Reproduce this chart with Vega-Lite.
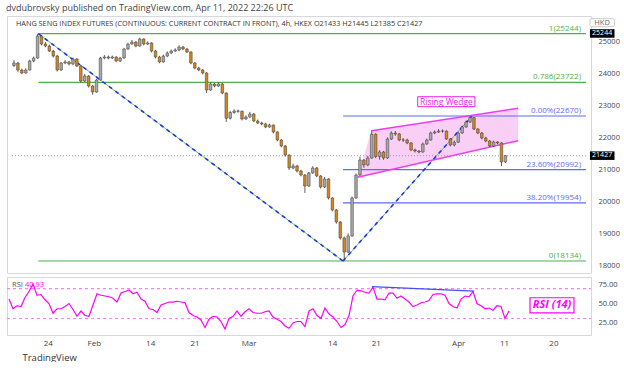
{
"$schema": "https://vega.github.io/schema/vega-lite/v6.json",
"background": "white",
"padding": {"left": 5, "top": 3, "right": 0, "bottom": 0},
"title": {"text": "dvdubrovsky published on TradingView.com, Apr 11, 2022 22:26 UTC", "anchor": "start", "fontSize": 9, "fontWeight": "normal", "color": "#444", "font": "Open Sans", "offset": 3},
"spacing": 2,
"datasets": {
"bars": [
{"i":0,"o":24250,"h":24420,"l":24200,"c":24328,"r":56},
{"i":1,"o":24328,"h":24360,"l":24050,"c":24108,"r":43},
{"i":2,"o":24108,"h":24150,"l":23980,"c":24015,"r":47},
{"i":3,"o":24015,"h":24160,"l":23990,"c":24108,"r":46},
{"i":4,"o":24108,"h":24430,"l":24090,"c":24390,"r":58},
{"i":5,"o":24390,"h":24530,"l":24350,"c":24484,"r":66},
{"i":6,"o":24484,"h":25244,"l":24460,"c":25172,"r":76},
{"i":7,"o":25172,"h":25200,"l":24880,"c":24922,"r":61},
{"i":8,"o":24922,"h":24990,"l":24820,"c":24860,"r":62},
{"i":9,"o":24860,"h":24900,"l":24670,"c":24703,"r":55},
{"i":10,"o":24703,"h":24740,"l":24500,"c":24546,"r":50},
{"i":11,"o":24546,"h":24580,"l":24060,"c":24108,"r":37},
{"i":12,"o":24108,"h":24360,"l":24080,"c":24327,"r":43},
{"i":13,"o":24327,"h":24420,"l":24290,"c":24360,"r":43},
{"i":14,"o":24360,"h":24400,"l":24250,"c":24296,"r":46},
{"i":15,"o":24296,"h":24500,"l":24270,"c":24453,"r":50},
{"i":16,"o":24453,"h":24480,"l":24200,"c":24234,"r":42},
{"i":17,"o":24234,"h":24260,"l":23720,"c":23764,"r":33},
{"i":18,"o":23764,"h":23990,"l":23740,"c":23921,"r":40},
{"i":19,"o":23921,"h":23950,"l":23560,"c":23608,"r":34},
{"i":20,"o":23608,"h":23640,"l":23336,"c":23420,"r":33},
{"i":21,"o":23420,"h":23830,"l":23400,"c":23796,"r":48},
{"i":22,"o":23796,"h":24520,"l":23780,"c":24484,"r":63},
{"i":23,"o":24484,"h":24580,"l":24440,"c":24515,"r":61},
{"i":24,"o":24515,"h":24560,"l":24440,"c":24484,"r":60},
{"i":25,"o":24484,"h":24560,"l":24450,"c":24515,"r":59},
{"i":26,"o":24515,"h":24540,"l":24350,"c":24390,"r":57},
{"i":27,"o":24390,"h":24520,"l":24360,"c":24484,"r":52},
{"i":28,"o":24484,"h":24800,"l":24460,"c":24765,"r":64},
{"i":29,"o":24765,"h":24960,"l":24740,"c":24922,"r":66},
{"i":30,"o":24922,"h":25050,"l":24900,"c":24984,"r":68},
{"i":31,"o":24984,"h":25010,"l":24820,"c":24859,"r":63},
{"i":32,"o":24859,"h":25120,"l":24840,"c":25078,"r":65},
{"i":33,"o":25078,"h":25100,"l":24880,"c":24922,"r":56},
{"i":34,"o":24922,"h":25000,"l":24890,"c":24953,"r":53},
{"i":35,"o":24953,"h":24980,"l":24660,"c":24703,"r":43},
{"i":36,"o":24703,"h":24740,"l":24470,"c":24515,"r":42},
{"i":37,"o":24515,"h":24550,"l":24320,"c":24359,"r":38},
{"i":38,"o":24359,"h":24590,"l":24340,"c":24546,"r":48},
{"i":39,"o":24546,"h":24690,"l":24510,"c":24640,"r":50},
{"i":40,"o":24640,"h":24750,"l":24610,"c":24703,"r":52},
{"i":41,"o":24703,"h":24790,"l":24680,"c":24734,"r":52},
{"i":42,"o":24734,"h":24880,"l":24700,"c":24828,"r":53},
{"i":43,"o":24828,"h":24860,"l":24730,"c":24765,"r":52},
{"i":44,"o":24765,"h":24800,"l":24640,"c":24671,"r":51},
{"i":45,"o":24671,"h":24700,"l":24290,"c":24327,"r":38},
{"i":46,"o":24327,"h":24360,"l":24130,"c":24171,"r":34},
{"i":47,"o":24171,"h":24210,"l":24070,"c":24108,"r":32},
{"i":48,"o":24108,"h":24140,"l":23970,"c":24015,"r":28},
{"i":49,"o":24015,"h":24040,"l":23389,"c":23483,"r":18},
{"i":50,"o":23483,"h":23720,"l":23460,"c":23671,"r":29},
{"i":51,"o":23671,"h":23700,"l":23570,"c":23608,"r":33},
{"i":52,"o":23608,"h":23720,"l":23580,"c":23671,"r":32},
{"i":53,"o":23671,"h":23700,"l":23350,"c":23389,"r":26},
{"i":54,"o":23389,"h":23410,"l":22483,"c":22600,"r":16},
{"i":55,"o":22600,"h":22830,"l":22560,"c":22780,"r":30},
{"i":56,"o":22780,"h":22880,"l":22740,"c":22826,"r":33},
{"i":57,"o":22826,"h":22870,"l":22770,"c":22820,"r":40},
{"i":58,"o":22820,"h":22840,"l":22530,"c":22576,"r":33},
{"i":59,"o":22576,"h":22690,"l":22550,"c":22639,"r":39},
{"i":60,"o":22639,"h":22800,"l":22610,"c":22733,"r":43},
{"i":61,"o":22733,"h":22760,"l":22480,"c":22514,"r":38},
{"i":62,"o":22514,"h":22560,"l":22420,"c":22451,"r":37},
{"i":63,"o":22451,"h":22490,"l":22380,"c":22420,"r":37},
{"i":64,"o":22420,"h":22460,"l":22290,"c":22326,"r":39},
{"i":65,"o":22326,"h":22430,"l":22300,"c":22389,"r":40},
{"i":66,"o":22389,"h":22400,"l":22130,"c":22170,"r":32},
{"i":67,"o":22170,"h":22190,"l":21880,"c":21920,"r":29},
{"i":68,"o":21920,"h":21950,"l":21690,"c":21732,"r":26},
{"i":69,"o":21732,"h":21760,"l":21400,"c":21450,"r":20},
{"i":70,"o":21450,"h":21470,"l":20980,"c":21044,"r":17},
{"i":71,"o":21044,"h":21180,"l":21000,"c":21107,"r":24},
{"i":72,"o":21107,"h":21140,"l":20900,"c":20950,"r":26},
{"i":73,"o":20950,"h":20990,"l":20780,"c":20825,"r":26},
{"i":74,"o":20825,"h":20850,"l":20262,"c":20481,"r":19},
{"i":75,"o":20481,"h":20920,"l":20450,"c":20888,"r":40},
{"i":76,"o":20888,"h":21100,"l":20860,"c":21044,"r":43},
{"i":77,"o":21044,"h":21070,"l":20760,"c":20794,"r":34},
{"i":78,"o":20794,"h":20820,"l":20400,"c":20450,"r":30},
{"i":79,"o":20450,"h":20760,"l":20420,"c":20700,"r":44},
{"i":80,"o":20700,"h":20720,"l":20060,"c":20106,"r":36},
{"i":81,"o":20106,"h":20130,"l":19690,"c":19731,"r":32},
{"i":82,"o":19731,"h":19760,"l":19300,"c":19355,"r":26},
{"i":83,"o":19355,"h":19380,"l":18800,"c":18855,"r":18},
{"i":84,"o":18855,"h":18900,"l":18134,"c":18416,"r":22},
{"i":85,"o":18416,"h":19000,"l":18380,"c":18917,"r":34},
{"i":86,"o":18917,"h":20150,"l":18890,"c":20106,"r":60},
{"i":87,"o":20106,"h":20870,"l":20080,"c":20825,"r":68},
{"i":88,"o":20825,"h":21400,"l":20800,"c":21294,"r":67},
{"i":89,"o":21294,"h":21320,"l":21050,"c":21138,"r":65},
{"i":90,"o":21138,"h":21420,"l":21100,"c":21356,"r":64},
{"i":91,"o":21356,"h":22210,"l":21330,"c":22100,"r":72},
{"i":92,"o":22100,"h":22130,"l":21350,"c":21400,"r":56},
{"i":93,"o":21400,"h":21600,"l":21300,"c":21544,"r":56},
{"i":94,"o":21544,"h":21580,"l":21300,"c":21356,"r":55},
{"i":95,"o":21356,"h":22000,"l":21330,"c":21950,"r":64},
{"i":96,"o":21950,"h":22190,"l":21920,"c":22138,"r":64},
{"i":97,"o":22138,"h":22200,"l":22050,"c":22107,"r":57},
{"i":98,"o":22107,"h":22140,"l":21880,"c":21919,"r":60},
{"i":99,"o":21919,"h":21980,"l":21860,"c":21919,"r":56},
{"i":100,"o":21919,"h":21960,"l":21790,"c":21826,"r":52},
{"i":101,"o":21826,"h":21850,"l":21570,"c":21607,"r":46},
{"i":102,"o":21607,"h":21650,"l":21530,"c":21575,"r":48},
{"i":103,"o":21575,"h":21600,"l":21500,"c":21544,"r":51},
{"i":104,"o":21544,"h":21840,"l":21520,"c":21794,"r":52},
{"i":105,"o":21794,"h":21960,"l":21770,"c":21919,"r":54},
{"i":106,"o":21919,"h":22180,"l":21900,"c":22138,"r":62},
{"i":107,"o":22138,"h":22220,"l":22100,"c":22169,"r":63},
{"i":108,"o":22169,"h":22260,"l":22140,"c":22200,"r":63},
{"i":109,"o":22200,"h":22250,"l":22150,"c":22200,"r":61},
{"i":110,"o":22200,"h":22220,"l":21920,"c":21950,"r":50},
{"i":111,"o":21950,"h":21980,"l":21720,"c":21763,"r":46},
{"i":112,"o":21763,"h":21900,"l":21720,"c":21850,"r":44},
{"i":113,"o":21850,"h":22180,"l":21830,"c":22138,"r":56},
{"i":114,"o":22138,"h":22370,"l":22110,"c":22326,"r":60},
{"i":115,"o":22326,"h":22530,"l":22300,"c":22482,"r":59},
{"i":116,"o":22482,"h":22660,"l":22450,"c":22620,"r":66},
{"i":117,"o":22620,"h":22640,"l":22230,"c":22263,"r":50},
{"i":118,"o":22263,"h":22290,"l":22100,"c":22138,"r":47},
{"i":119,"o":22138,"h":22170,"l":21940,"c":21982,"r":43},
{"i":120,"o":21982,"h":22020,"l":21850,"c":21888,"r":44},
{"i":121,"o":21888,"h":21920,"l":21700,"c":21732,"r":41},
{"i":122,"o":21732,"h":21900,"l":21710,"c":21857,"r":47},
{"i":123,"o":21857,"h":21880,"l":21780,"c":21826,"r":46},
{"i":124,"o":21826,"h":21850,"l":21100,"c":21232,"r":30},
{"i":125,"o":21232,"h":21445,"l":21200,"c":21427,"r":40}
],
"fibs": [
{"lab":"1(25244)","p":25244,"i":6.2,"e":145.5,"k":"g"},
{"lab":"0.786(23722)","p":23722,"i":6.2,"e":145.5,"k":"g"},
{"lab":"0(18134)","p":18134,"i":6.2,"e":145.5,"k":"g"},
{"lab":"0.00%(22670)","p":22670,"i":83.7,"e":145.5,"k":"b"},
{"lab":"23.60%(20992)","p":20992,"i":83.7,"e":145.5,"k":"b"},
{"lab":"38.20%(19954)","p":19954,"i":83.7,"e":145.5,"k":"b"}
],
"diag": [
{"seg":"a","i":6.2,"p":25244},{"seg":"a","i":83.7,"p":18134},
{"seg":"b","i":83.7,"p":18134},{"seg":"b","i":116.5,"p":22670}
],
"wedgeArea": [
{"i":87.4,"p":20752,"lo":20752},
{"i":90.9,"p":22210,"lo":20849},
{"i":128.25,"p":22911,"lo":21897}
],
"wedgeLines": [
{"seg":"u","i":90.9,"p":22210},{"seg":"u","i":128.25,"p":22911},
{"seg":"l","i":87.4,"p":20752},{"seg":"l","i":128.25,"p":21897}
]
},
"vconcat": [
{
"width": 584, "height": 257,
"encoding": {
"x": {"field": "i", "type": "quantitative", "scale": {"domain": [-0.5, 145.5], "nice": false, "zero": false}, "axis": null},
"y": {"field": "p", "type": "quantitative", "scale": {"domain": [17759, 25798], "nice": false, "zero": false},
 "axis": {"orient": "right", "values": [18000,19000,20000,21000,22000,23000,24000,25000], "format": "d", "labelFont": "Open Sans", "labelFontSize": 7.5, "labelColor": "#444", "ticks": false, "domain": false, "grid": false, "labelPadding": 7, "title": null}}
},
"layer": [
{"data": {"name": "wedgeArea"}, "mark": {"type": "area", "color": "#f9c3f3", "opacity": 0.8}, "encoding": {"y2": {"field": "lo"}}},
{"data": {"values": [{"i": -0.5, "e": 145.5, "p": 21427}]}, "mark": {"type": "rule", "color": "#9598a1", "strokeDash": [1, 2], "strokeWidth": 1}, "encoding": {"x2": {"field": "e"}}},
{"data": {"name": "fibs"}, "mark": {"type": "rule", "strokeWidth": 1.2}, "encoding": {"x2": {"field": "e"}, "color": {"field": "k", "type": "nominal", "scale": {"domain": ["g", "b"], "range": ["#4caf50", "#5b6cf5"]}, "legend": null}}},
{"data": {"name": "diag"}, "mark": {"type": "line", "color": "#66bb6a", "strokeWidth": 1}, "encoding": {"detail": {"field": "seg"}}},
{"data": {"name": "diag"}, "mark": {"type": "line", "color": "#2233ee", "strokeWidth": 1.6, "strokeDash": [4, 4]}, "encoding": {"detail": {"field": "seg"}}},
{"data": {"name": "wedgeLines"}, "mark": {"type": "line", "color": "#f03cf0", "strokeWidth": 1.5}, "encoding": {"detail": {"field": "seg"}}},
{"data": {"name": "bars"}, "mark": {"type": "rule", "color": "#3a3a3a", "strokeWidth": 0.8}, "encoding": {"y": {"field": "l", "type": "quantitative"}, "y2": {"field": "h"}}},
{"data": {"name": "bars"}, "mark": {"type": "bar", "width": 2.6, "stroke": "#3a3a3a", "strokeWidth": 0.5}, "encoding": {"y": {"field": "o", "type": "quantitative"}, "y2": {"field": "c"}, "fill": {"condition": {"test": "datum.c >= datum.o", "value": "#a8a8a8"}, "value": "#d4861c"}}},
{"data": {"name": "fibs"}, "mark": {"type": "text", "align": "right", "baseline": "bottom", "dx": -5, "dy": -1, "fontSize": 8, "font": "Open Sans"}, "encoding": {"x": {"field": "e", "type": "quantitative"}, "text": {"field": "lab"}, "color": {"field": "k", "type": "nominal", "legend": null}}},
{"data": {"values": [{"i": 102.7, "e": 117.25, "p": 23273, "p2": 22961}]}, "mark": {"type": "rect", "fill": "white", "stroke": "#e91ee9", "strokeWidth": 1}, "encoding": {"x2": {"field": "e"}, "y2": {"field": "p2"}}},
{"data": {"values": [{"i": 110, "p": 23117, "t": "Rising Wedge"}]}, "mark": {"type": "text", "color": "#e91ee9", "fontSize": 8.5, "font": "Open Sans", "baseline": "middle"}, "encoding": {"text": {"field": "t"}}},
{"data": {"values": [{"i": 0.5, "p": 25547, "t": "HANG SENG INDEX FUTURES (CONTINUOUS: CURRENT CONTRACT IN FRONT), 4h, HKEX   O21433  H21445  L21385  C21427"}]}, "mark": {"type": "text", "align": "left", "baseline": "middle", "color": "#333", "fontSize": 7.3, "font": "Open Sans"}, "encoding": {"text": {"field": "t"}}},
{"data": {"values": [{"i": 146.5, "e": 152.75, "p": 25385, "p2": 25118}, {"i": 146.5, "e": 152.75, "p": 21563, "p2": 21296}]}, "mark": {"type": "rect", "fill": "#000000"}, "encoding": {"x2": {"field": "e"}, "y2": {"field": "p2"}}},
{"data": {"values": [{"i": 146.5, "e": 152.75, "p": 25714, "p2": 25464}]}, "mark": {"type": "rect", "fill": "white", "stroke": "#c8cad0", "cornerRadius": 2}, "encoding": {"x2": {"field": "e"}, "y2": {"field": "p2"}}},
{"data": {"values": [{"i": 149.6, "p": 25244, "t": "25244"}, {"i": 149.6, "p": 21427, "t": "21427"}]}, "mark": {"type": "text", "color": "white", "fontSize": 7, "dy": -0.5, "font": "Open Sans", "baseline": "middle"}, "encoding": {"text": {"field": "t"}}},
{"data": {"values": [{"i": 149.6, "p": 25589, "t": "HKD"}]}, "mark": {"type": "text", "color": "#666", "fontSize": 7.5, "font": "Open Sans", "baseline": "middle"}, "encoding": {"text": {"field": "t"}}}
]
},
{
"width": 584, "height": 58,
"encoding": {
"x": {"field": "i", "type": "quantitative", "scale": {"domain": [-0.5, 145.5], "nice": false, "zero": false},
 "axis": {"orient": "bottom", "values": [9.7, 21.2, 35.3, 46.4, 59.9, 80.8, 91.7, 112.3, 123.75, 136.1],
  "labelExpr": "datum.value < 15 ? '24' : datum.value < 28 ? 'Feb' : datum.value < 40 ? '14' : datum.value < 52 ? '21' : datum.value < 70 ? 'Mar' : datum.value < 85 ? '14' : datum.value < 100 ? '21' : datum.value < 118 ? 'Apr' : datum.value < 130 ? '11' : '20'",
  "labelFont": "Open Sans", "labelFontSize": 8, "labelColor": "#444", "ticks": false, "domain": false, "grid": false, "labelPadding": 4,
  "title": "TradingView", "titleX": 15, "titleY": 22, "titleAlign": "left", "titleAnchor": "start", "titleBaseline": "middle", "titleFont": "Open Sans", "titleFontSize": 9.5, "titleFontWeight": "normal", "titleColor": "#333"}},
"y": {"field": "r", "type": "quantitative", "scale": {"domain": [8, 85.4], "nice": false, "zero": false},
 "axis": {"orient": "right", "values": [25, 50, 75], "format": ".2f", "labelFont": "Open Sans", "labelFontSize": 7.5, "labelColor": "#444", "ticks": false, "domain": false, "grid": false, "labelPadding": 7, "title": null}}
},
"layer": [
{"data": {"values": [{"i": -0.5, "e": 145.5, "r": 70}, {"i": -0.5, "e": 145.5, "r": 30}]}, "mark": {"type": "rule", "color": "#f783f7", "strokeDash": [3, 3], "strokeWidth": 1.2}, "encoding": {"x2": {"field": "e"}}},
{"data": {"name": "bars"}, "mark": {"type": "line", "color": "#ff00ff", "strokeWidth": 1.2}, "encoding": {}},
{"data": {"values": [{"i": 90.75, "r": 72.5}, {"i": 116.25, "r": 66.6}]}, "mark": {"type": "line", "color": "#3f51f5", "strokeWidth": 1.3}, "encoding": {}},
{"data": {"values": [{"i": 130.25, "e": 141.25, "r": 57.7, "r2": 37.5}]}, "mark": {"type": "rect", "fill": "white", "stroke": "#ff00ff", "strokeWidth": 1.2}, "encoding": {"x2": {"field": "e"}, "y2": {"field": "r2"}}},
{"data": {"values": [{"i": 135.75, "r": 47.6, "t": "RSI (14)"}]}, "mark": {"type": "text", "color": "#ff00ff", "fontSize": 11, "fontStyle": "italic", "fontWeight": "bold", "font": "Open Sans", "baseline": "middle"}, "encoding": {"text": {"field": "t"}}},
{"data": {"values": [{"i": 0.75, "r": 74.2, "t": "RSI"}]}, "mark": {"type": "text", "color": "#555", "fontSize": 7.5, "font": "Open Sans", "align": "left", "baseline": "middle"}, "encoding": {"text": {"field": "t"}}},
{"data": {"values": [{"i": 4, "r": 74.2, "t": "40.93"}]}, "mark": {"type": "text", "color": "#ff00ff", "fontSize": 7.5, "font": "Open Sans", "align": "left", "baseline": "middle"}, "encoding": {"text": {"field": "t"}}}
]
}
],
"config": {"view": {"stroke": "#d6d8de"}}
}
